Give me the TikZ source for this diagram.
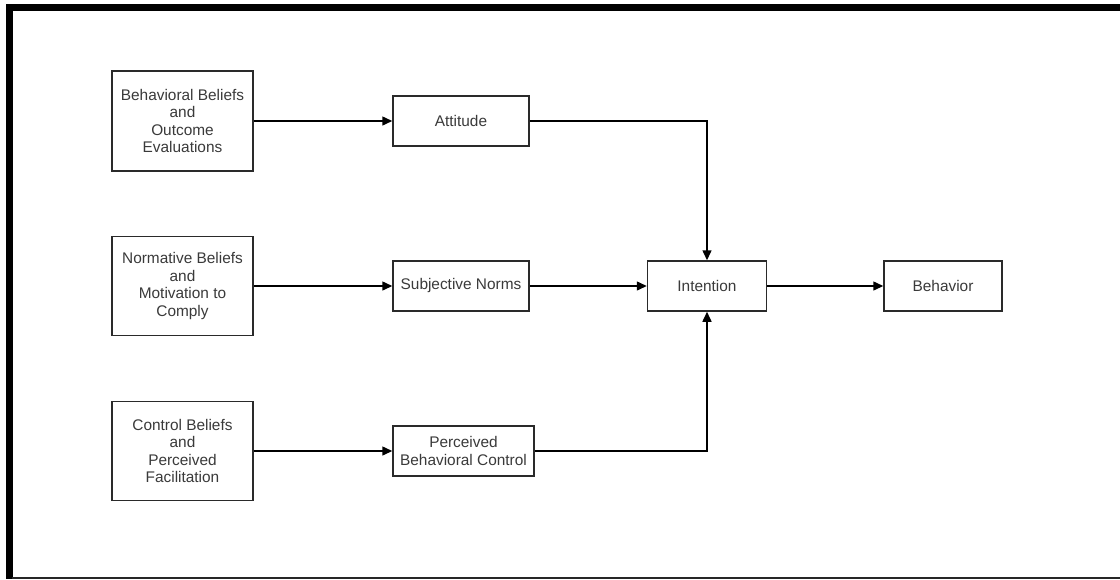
\documentclass[tikz,border=0pt]{standalone}
\usepackage{fontspec}
\setmainfont{Liberation Sans}
\usetikzlibrary{arrows.meta}
\definecolor{txt}{HTML}{3A3A3A}
\definecolor{edge}{HTML}{2A2A2A}
\begin{document}
\begin{tikzpicture}[x=1pt,y=-1pt,
  box/.style={draw=edge,line width=1.5pt,rectangle,inner sep=0pt,align=center,text=txt,
    font=\fontsize{15.4}{17.6}\selectfont},
  conn/.style={draw=black,line width=1.5pt,-{Triangle[length=10pt,width=9pt]}}]
\useasboundingbox (0,0) rectangle (1120,579);
\fill[white] (0,0) rectangle (1120,579);
% frame
\fill[black] (6,4) rectangle (1120,10.5);
\fill[black] (6,4) rectangle (12.5,579);
\draw[black!85,line width=1.2pt] (12,578) -- (1120,578);
% nodes
\node[box,minimum width=141pt,minimum height=100pt] (bb) at (182.5,121) {Behavioral Beliefs\\and\\Outcome\\Evaluations};
\node[box,minimum width=141pt,minimum height=99pt] (nb) at (182.5,286) {Normative Beliefs\\and\\Motivation to\\Comply};
\node[box,minimum width=141pt,minimum height=99pt] (cb) at (182.5,451) {Control Beliefs\\and\\Perceived\\Facilitation};
\node[box,minimum width=136pt,minimum height=50pt] (att) at (461,121) {Attitude};
\node[box,minimum width=136pt,minimum height=50pt] (sn) at (461,286) {Subjective Norms};
\node[box,minimum width=141pt,minimum height=50pt] (pbc) at (463.5,451) {Perceived\\Behavioral Control};
\node[box,minimum width=119pt,minimum height=50pt] (int) at (707,286) {Intention};
\node[box,minimum width=118pt,minimum height=50pt] (beh) at (943,286) {Behavior};
% connectors
\draw[conn] (bb.east) -- (att.west);
\draw[conn] (nb.east) -- (sn.west);
\draw[conn] (cb.east) -- (pbc.west);
\draw[conn] (sn.east) -- (int.west);
\draw[conn] (int.east) -- (beh.west);
\draw[conn] (att.east) -| (int.north);
\draw[conn] (pbc.east) -| (int.south);
\end{tikzpicture}
\end{document}
